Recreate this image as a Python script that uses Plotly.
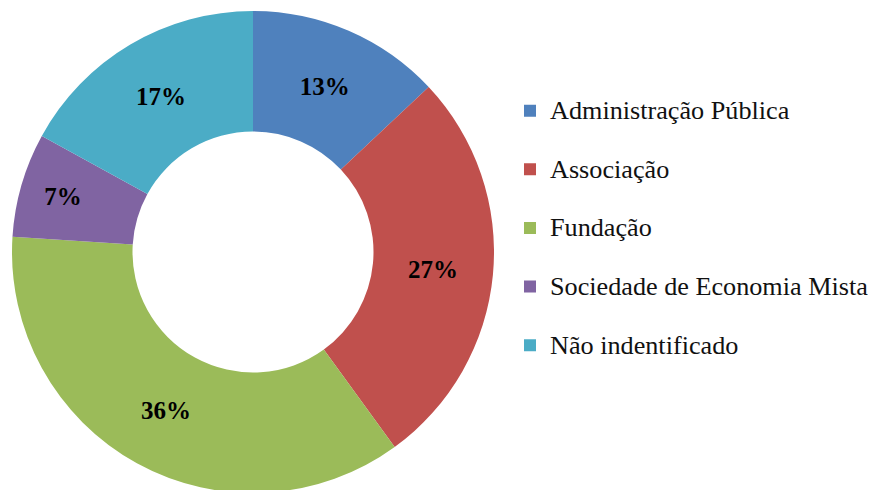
import plotly.graph_objects as go

categories = ["Administração Pública", "Associação", "Fundação",
              "Sociedade de Economia Mista", "Não indentificado"]
values = [13, 27, 36, 7, 17]
colors = ["#4F81BD", "#C0504D", "#9BBB59", "#8064A2", "#4BACC6"]

legend_labels = [f"<span style='font-size:26.2px'>{c}</span><br> " for c in categories]

fig = go.Figure(go.Pie(
    labels=legend_labels,
    values=values,
    hole=0.5,
    sort=False,
    direction="clockwise",
    rotation=0,
    marker=dict(colors=colors, line=dict(width=0)),
    texttemplate="%{value}%",
    textposition="inside",
    insidetextorientation="horizontal",
    textfont=dict(family="Liberation Serif", size=25, color="black", weight="bold"),
    hovertemplate="%{customdata}: %{value}%<extra></extra>",
    customdata=categories,
    domain=dict(x=[4/876, 486/876], y=[5/490, 487/490]),
))

fig.update_layout(
    width=876, height=490,
    margin=dict(l=0, r=0, t=0, b=0),
    paper_bgcolor="white",
    showlegend=True,
    legend=dict(
        x=502/876, xanchor="left", y=0.522, yanchor="middle",
        font=dict(family="Liberation Serif", size=21.4, color="#111111"),
        valign="top",
        bgcolor="rgba(0,0,0,0)",
    ),
)

fig.write_html("out.html")
